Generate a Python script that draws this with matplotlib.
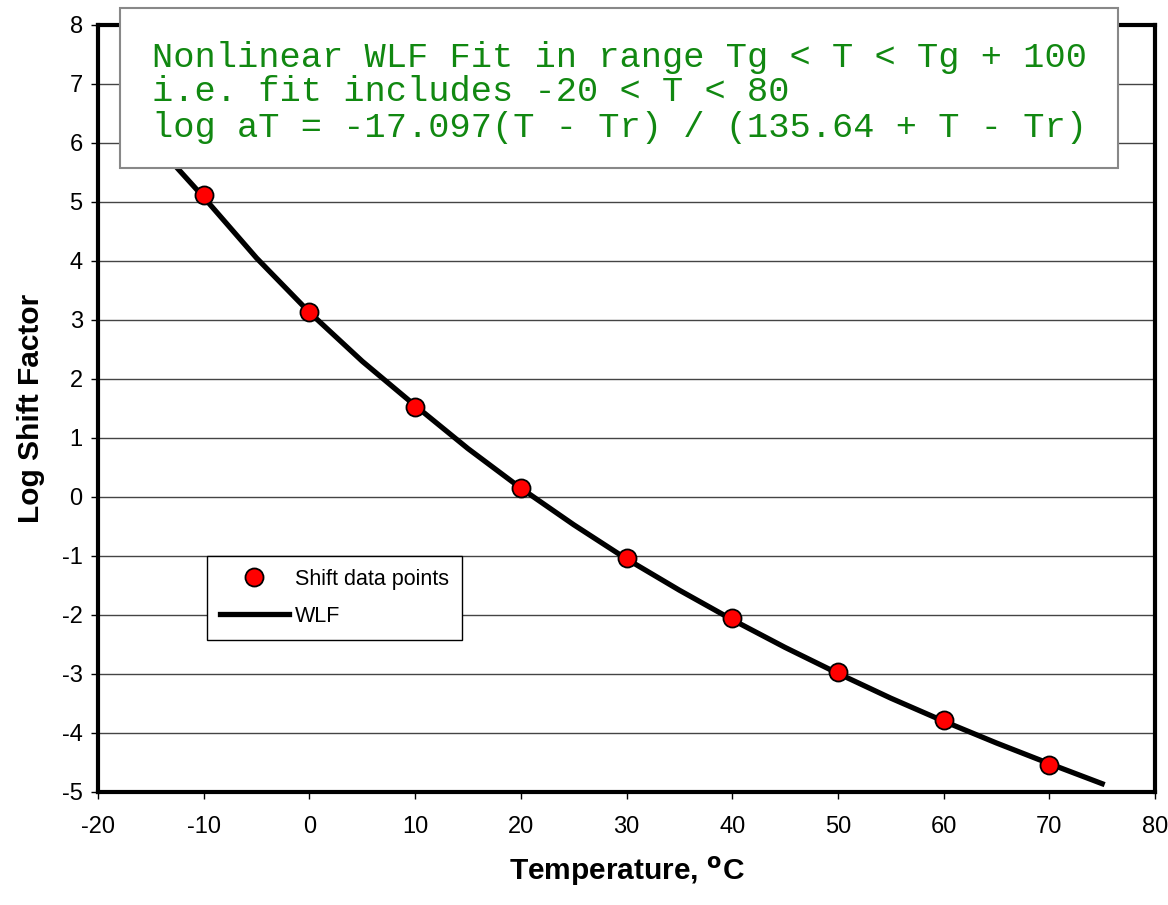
import matplotlib
matplotlib.use('Agg')
import matplotlib.pyplot as plt
from matplotlib.patches import Rectangle

# shift data points
temp_pts = [-10, 0, 10, 20, 30, 40, 50, 60, 70]
shift_pts = [5.11, 3.14, 1.53, 0.15, -1.04, -2.05, -2.97, -3.78, -4.54]

# WLF fit curve (5 degree steps)
temp_wlf = [-15, -10, -5, 0, 5, 10, 15, 20, 25, 30, 35, 40, 45, 50, 55, 60, 65, 70, 75]
shift_wlf = [6.07, 5.08, 4.05, 3.13, 2.30, 1.55, 0.82, 0.15, -0.47, -1.05, -1.58,
             -2.08, -2.55, -2.99, -3.41, -3.80, -4.17, -4.52, -4.86]

box_lines = ['Nonlinear WLF Fit in range Tg < T < Tg + 100',
             'i.e. fit includes -20 < T < 80',
             'log aT = -17.097(T - Tr) / (135.64 + T - Tr)']

plt.rcParams['font.family'] = ['Liberation Sans', 'DejaVu Sans']
plt.rcParams['axes.unicode_minus'] = False

fig = plt.figure(figsize=(11.68, 9.05), dpi=100)
ax = fig.add_axes([0.0839, 0.1249, 0.905, 0.8475])

ax.plot(temp_wlf, shift_wlf, color='black', lw=3.8, label='WLF', zorder=3)
ax.plot(temp_pts, shift_pts, 'o', color='red', mec='black', mew=1.3, ms=13,
        label='Shift data points', zorder=4)

ax.set_xlim(-20, 80)
ax.set_ylim(-5, 8)
ax.set_xticks(range(-20, 81, 10))
ax.set_yticks(range(-5, 9))
ax.yaxis.grid(True, color='#444444', lw=1)
ax.set_axisbelow(True)
for s in ax.spines.values():
    s.set_linewidth(3)
ax.tick_params(direction='out', length=5, width=1, labelsize=17, pad=6)
ax.tick_params(axis='x', pad=12)

ax.set_xlabel('Temperature, $^{\\mathbf{o}}$C', fontsize=21.5, fontweight='bold',
              labelpad=12)
ax.set_ylabel('Log Shift Factor', fontsize=21.5, fontweight='bold', labelpad=12)

h, l = ax.get_legend_handles_labels()
leg = ax.legend(h[::-1], l[::-1], loc='upper left', bbox_to_anchor=(0.103, 0.308),
                borderaxespad=0, fontsize=15.5, frameon=True, fancybox=False,
                framealpha=1, edgecolor='black', handlelength=3.2, borderpad=0.6,
                labelspacing=0.75, handletextpad=0.3)
leg.get_frame().set_linewidth(1)

# fit text box
box = Rectangle((0.021, 0.8136), 0.944, 0.2086, transform=ax.transAxes,
                facecolor='white', edgecolor='#888888', lw=1.5, clip_on=False, zorder=10)
ax.add_patch(box)
ys = [0.958, 0.913, 0.866]
for y, line in zip(ys, box_lines):
    ax.text(0.051, y, line, transform=ax.transAxes,
            family='Liberation Mono', fontsize=25.5, color='#118811',
            va='center', ha='left', zorder=11, clip_on=False)

fig.savefig('out.png', dpi=100)
